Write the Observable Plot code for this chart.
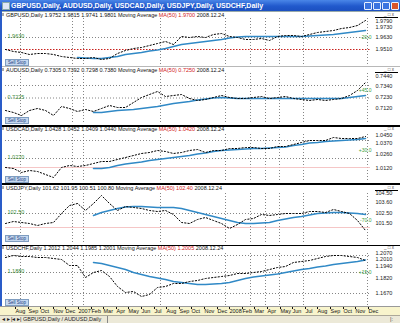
<!DOCTYPE html>
<html><head><meta charset="utf-8">
<script src="https://cdn.jsdelivr.net/npm/d3@7"></script>
<script src="https://cdn.jsdelivr.net/npm/@observablehq/plot@0.6"></script>
<style>
html,body{margin:0;padding:0;background:#fff;}
#win{position:relative;width:400px;height:323px;overflow:hidden;background:#fff;font-family:"Liberation Sans",Arial,sans-serif;}
.a{position:absolute;white-space:nowrap;}
#win svg{position:absolute;left:0;}
</style></head><body><div id="win"></div>
<script>
const windowTitle = "GBPUSD,Daily, AUDUSD,Daily, USDCAD,Daily, USDJPY,Daily, USDCHF,Daily";
const symbols = ["GBPUSD,Daily","AUDUSD,Daily","USDCAD,Daily","USDJPY,Daily","USDCHF,Daily"];
const headerQuotes = ["1.9752 1.9815 1.9741 1.9801","0.7305 0.7392 0.7298 0.7380","1.0428 1.0452 1.0409 1.0440","101.62 101.95 100.51 100.80","1.2012 1.2044 1.1985 1.2001"];
const headerRed = ["MA(50) 1.9700","MA(50) 0.7250","MA(50) 1.0420","MA(50) 102.40","MA(50) 1.2005"];
const headerDate = ["2008.12.24","2008.12.24","2008.12.24","2008.12.24","2008.12.24"];
const labelBoxText = ["Sell Stop","Sell Stop","Sell Stop","Sell Stop","Sell Stop"];

const bars = [0,8,16,24,32,40,48,56,64,72,80,88,96,104,112,120,128,136,144,152,160,168,176,184,192,200,208,216,224,232,240,248,256,264,272,280,288,296,304,312,320,328,336,344,352,360];
const gridX = [15,67,78,155,220,245,260,274,298,362];

const close1 = [1.951,1.949,1.948,1.946,1.947,1.947,1.946,1.944,1.943,1.942,1.942,1.943,1.941,1.942,1.947,1.950,1.952,1.953,1.955,1.957,1.959,1.956,1.964,1.963,1.964,1.963,1.966,1.967,1.964,1.963,1.961,1.961,1.962,1.960,1.964,1.965,1.965,1.964,1.966,1.968,1.969,1.970,1.972,1.973,1.975,1.980];
const ma1 = [null,null,null,null,null,null,null,null,null,1.943,1.9425,1.942,1.942,1.943,1.944,1.946,1.947,1.948,1.9495,1.9505,1.952,1.954,1.956,1.957,1.958,1.959,1.960,1.961,1.9625,1.9635,1.964,1.964,1.964,1.964,1.964,1.964,1.964,1.964,1.9645,1.965,1.9655,1.966,1.967,1.968,1.969,1.970];

const close2 = [0.710,0.708,0.705,0.710,0.712,0.710,0.705,0.714,0.712,0.709,0.711,0.709,0.712,0.715,0.713,0.713,0.718,0.723,0.726,0.729,0.724,0.725,0.726,0.722,0.720,0.721,0.723,0.725,0.723,0.722,0.722,0.723,0.724,0.722,0.723,0.724,0.722,0.721,0.720,0.721,0.720,0.721,0.722,0.725,0.730,0.738];
const ma2 = [null,null,null,null,null,null,null,null,null,null,null,0.708,0.708,0.709,0.710,0.7105,0.711,0.712,0.713,0.714,0.7155,0.717,0.718,0.719,0.7205,0.7215,0.7225,0.723,0.7225,0.722,0.722,0.722,0.722,0.722,0.722,0.722,0.722,0.722,0.722,0.722,0.722,0.722,0.722,0.723,0.724,0.725];

const close3 = [1.013,1.012,1.008,1.010,1.009,1.006,1.003,1.013,1.015,1.014,1.015,1.017,1.019,1.019,1.021,1.023,1.025,1.027,1.028,1.030,1.029,1.027,1.028,1.030,1.031,1.028,1.030,1.030,1.032,1.032,1.033,1.033,1.032,1.032,1.034,1.034,1.036,1.038,1.040,1.040,1.040,1.043,1.042,1.042,1.042,1.044];
const ma3 = [null,null,null,null,null,null,null,null,null,null,null,1.012,1.012,1.013,1.015,1.0165,1.0175,1.0185,1.020,1.021,1.022,1.023,1.024,1.025,1.0265,1.0275,1.029,1.030,1.0305,1.031,1.0315,1.032,1.032,1.0325,1.033,1.0335,1.035,1.036,1.0375,1.038,1.039,1.0395,1.040,1.0405,1.041,1.042];

const close4 = [101.5,101.7,101.6,101.5,101.3,101.5,101.6,102.5,103.3,103.5,102.8,103.5,104.3,103.5,102.8,103.2,103.1,103.0,102.8,102.7,102.8,102.4,101.6,101.5,101.9,102.1,101.8,101.5,101.0,101.4,101.9,102.0,102.4,102.3,102.4,102.5,102.5,102.5,102.7,102.7,102.6,102.9,102.7,102.5,101.8,100.8];
const ma4 = [null,null,null,null,null,null,null,null,null,null,null,102.3,102.6,102.8,103.0,103.15,103.2,103.2,103.15,103.1,103.1,103.1,103.0,102.8,102.6,102.4,102.2,102.0,101.8,101.6,101.5,101.5,101.55,101.6,101.8,101.95,102.1,102.2,102.35,102.5,102.55,102.6,102.6,102.55,102.5,102.4];

const close5 = [1.203,1.205,1.204,1.204,1.203,1.203,1.202,1.201,1.195,1.195,1.183,1.188,1.190,1.184,1.174,1.168,1.169,1.164,1.166,1.173,1.174,1.177,1.177,1.179,1.180,1.182,1.183,1.184,1.185,1.187,1.187,1.188,1.189,1.191,1.193,1.194,1.198,1.199,1.200,1.202,1.204,1.205,1.205,1.204,1.203,1.200];
const ma5 = [null,null,null,null,null,null,null,null,null,null,null,1.198,1.197,1.195,1.193,1.191,1.188,1.186,1.184,1.1825,1.181,1.179,1.178,1.177,1.176,1.176,1.1765,1.177,1.178,1.180,1.182,1.1835,1.1845,1.1855,1.1865,1.188,1.1895,1.191,1.192,1.1935,1.1945,1.196,1.197,1.198,1.199,1.2005];

const yDomains = [[1.935,1.982],[0.696,0.747],[0.998,1.049],[99.4,104.8],[1.154,1.210]];
const hLevels = [[1.963],[0.735,0.7225],[1.040,1.022],[102.5],[1.205,1.188,1.167]];
const redLevels = [[1.951],[],[],[],[]];
const pinkLevels = [[],[],[1.013],[101.1],[]];
const rightTicks = [[1.979,1.973,1.963,1.951],[0.744,0.734,0.723,0.712],[1.045,1.037,1.026,1.012],[104.5,103.6,102.5,101.5],[1.207,1.201,1.194,1.182,1.167]];
const tickFormats = [".4f",".4f",".4f",".2f",".4f"];
const leftLabelLevel = [1.963,0.7225,1.022,102.5,1.188];
const leftLabelText = ["1.9630","0.7225","1.0220","102.50","1.1880"];
const greenLevel = [1.963,0.730,1.030,101.8,1.188];
const greenText = ["-20.0","+45.0","+30.0","-70.0","+15.0"];

const timeTicks = [9,22,34,47,59,72,85,97,110,122,135,148,160,173,185,198,211,223,236,248,261,274,286,299,311,324,337,349,362];
const timeLabels = ["Aug","Sep","Oct","Nov","Dec","2007","Feb","Mar","Apr","May","Jun","Jul","Aug","Sep","Oct","Nov","Dec","2008","Feb","Mar","Apr","May","Jun","Jul","Aug","Sep","Oct","Nov","Dec"];

const closes = [close1,close2,close3,close4,close5];
const mas = [ma1,ma2,ma3,ma4,ma5];

// layout
const panelTop = [18,73,131,190,250];
const panelH = [47,51,51,54,56];
const headerTop = [12,67,126,185,245];
const boxTop = [59,117,176,235,299];

const win = document.getElementById("win");
function div(style, text){
  const d = document.createElement("div"); d.className = "a";
  Object.assign(d.style, style); if (text != null) d.textContent = text;
  win.appendChild(d); return d;
}
const FONT = "'Liberation Sans', Arial, sans-serif";

// title bar
div({left:"0px",top:"0px",width:"400px",height:"11px",background:"linear-gradient(#4a86e8,#2159cc 55%,#1c50c0)"});
div({left:"2px",top:"2px",width:"6px",height:"6px",background:"#dfe8f6",border:"1px solid #8aa"});
div({left:"11px",top:"1px",font:`bold 7px ${FONT}`,color:"#fff",lineHeight:"9px"}, windowTitle);
const btnX = [364,373,382,391];
btnX.forEach((x,i)=>div({left:x+"px",top:"2px",width:"6px",height:"6px",background:i===3?"#d9542a":"#3b74e0",border:"1px solid #e8f0ff",borderRadius:"1px"}));
div({left:"0px",top:"11px",width:"400px",height:"1px",background:"#9aa"});

for (let p = 0; p < 5; p++) {
  const data = bars.map((b,i)=>({b, c: closes[p][i], m: mas[p][i]}));
  const fmt = d3.format(tickFormats[p]);
  const svg = Plot.plot({
    width: 400, height: panelH[p],
    marginLeft: 5, marginRight: 30, marginTop: 0, marginBottom: 0,
    x: {domain: [0,365], axis: null},
    y: {domain: yDomains[p], axis: "right", ticks: rightTicks[p], tickFormat: fmt, tickSize: 0, tickPadding: 5, label: null},
    style: {background: "transparent", fontFamily: FONT, fontSize: "5.5px", overflow: "visible", color: "#222"},
    marks: [
      Plot.ruleX(gridX, {stroke: "#666", strokeDasharray: "1,2", strokeWidth: 0.8}),
      Plot.ruleY(hLevels[p], {stroke: "#666", strokeDasharray: "1,2", strokeWidth: 0.8}),
      Plot.ruleY(pinkLevels[p], {stroke: "#f2b8b8", strokeWidth: 0.8}),
      Plot.ruleY(redLevels[p], {stroke: "#c8201c", strokeDasharray: "1.5,1.5", strokeWidth: 1}),
      Plot.line(data, {x: "b", y: "m", stroke: "#3089c6", strokeWidth: 1.5}),
      Plot.line(data, {x: "b", y: "c", stroke: "#000", strokeWidth: 1, strokeDasharray: "1.3,2"}),
      Plot.text([leftLabelLevel[p]], {x: 2, y: d => d, text: () => leftLabelText[p], textAnchor: "start", fill: "#3c8a3c", fontSize: 5.5, dy: -1}),
      Plot.text([greenLevel[p]], {x: 366, y: d => d, text: () => greenText[p], textAnchor: "end", fill: "#3aa03a", fontSize: 5}),
    ]
  });
  svg.style.top = panelTop[p] + "px";
  win.appendChild(svg);

  // header row
  div({left:"0px",top:headerTop[p]+"px",width:"400px",height:"6px",background:"#fff"});
  div({left:"1px",top:(headerTop[p]+1)+"px",width:"3px",height:"3px",background:"#aaa"});
  const h = div({left:"6px",top:headerTop[p]+"px",font:`5.5px ${FONT}`,lineHeight:"6px",color:"#111"});
  const s1 = document.createElement("span"); s1.textContent = symbols[p] + "  " + headerQuotes[p] + "  Moving Average  ";
  const s2 = document.createElement("span"); s2.textContent = headerRed[p]; s2.style.color = "#d02020";
  const s3 = document.createElement("span"); s3.textContent = "  " + headerDate[p];
  h.append(s1, s2, s3);
  div({left:"384px",top:(headerTop[p]-0.5)+"px",font:`4.5px ${FONT}`,lineHeight:"5px",color:"#444"}, "_ □ x");

  // label box
  div({left:"5px",top:boxTop[p]+"px",width:"22px",height:"5px",background:"#c6d8f0",border:"0.5px solid #7f9dc0",font:`4.5px ${FONT}`,lineHeight:"5px",color:"#1d3d80",textAlign:"center"}, labelBoxText[p]);
}
// separators
[[66,1,"#b8b8b8"],[125,1.5,"#000"],[183,1.5,"#000"],[244.5,1.5,"#000"]].forEach(([y,w,c])=>div({left:"0px",top:y+"px",width:"400px",height:w+"px",background:c}));
[[17],[72],[190]].forEach(([y])=>div({left:"375px",top:y+"px",width:"23px",height:"1px",background:"#000"}));

// left border
div({left:"0px",top:"11px",width:"1.5px",height:"312px",background:"#2a5cc8"});

// time axis strip
div({left:"0px",top:"306px",width:"400px",height:"9px",background:"#f8f4cc",borderTop:"1px solid #999"});
const labelMap = new Map(timeTicks.map((t,i)=>[t,timeLabels[i]]));
const tsvg = Plot.plot({
  width: 400, height: 8, marginLeft: 5, marginRight: 30, marginTop: 0, marginBottom: 8,
  x: {domain: [0,365], axis: null},
  style: {background: "transparent", fontFamily: FONT, fontSize: "5.5px", overflow: "visible", color: "#111"},
  marks: [
    Plot.axisX({anchor: "bottom", ticks: timeTicks, tickFormat: d => labelMap.get(d), tickSize: 2, tickPadding: 0, textAnchor: "start", dx: 1, label: null})
  ]
});
tsvg.style.top = "307px";
win.appendChild(tsvg);

// bottom tab bar
div({left:"0px",top:"315px",width:"400px",height:"8px",background:"#ece9d8",borderTop:"1px solid #aca899"});
div({left:"2px",top:"316px",font:`5.5px ${FONT}`,lineHeight:"7px",color:"#222"}, "◂ ▸ |◂ ▸| GBPUSD,Daily / AUDUSD,Daily");
div({left:"107px",top:"316px",width:"1px",height:"7px",background:"#888"});
div({left:"390px",top:"316px",font:`5.5px ${FONT}`,lineHeight:"7px",color:"#444"}, "|:");
</script></body></html>
